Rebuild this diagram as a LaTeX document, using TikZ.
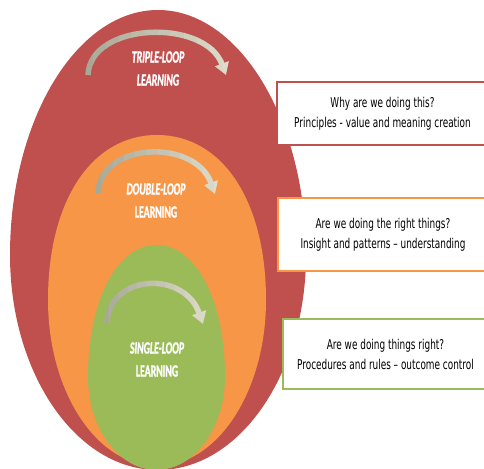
\documentclass[tikz,border=0pt]{standalone}
\usepackage{fontspec}
\usetikzlibrary{arrows.meta}
\newfontfamily\boxfont{DejaVu Sans}[FakeStretch=0.66]
\newfontfamily\labfont{Carlito}[FakeStretch=0.58,FakeBold=1.2]
\definecolor{tripred}{HTML}{C0504D}
\definecolor{dblorange}{HTML}{F79646}
\definecolor{sglgreen}{HTML}{9BBB59}
\definecolor{arrdark}{HTML}{A8A897}
\definecolor{arrlight}{HTML}{DEDCCB}
\tikzset{
  looplabel/.style={text=white, align=center, font=\labfont\fontsize{17}{23}\selectfont\bfseries},
  questbox/.style={rectangle, fill=white, line width=2pt, align=center, inner sep=0pt,
    font=\boxfont\fontsize{13.5}{20}\selectfont},
  looparrow/.style={line width=5.5pt, -{Triangle[length=12pt,width=14pt]}}
}
% egg-shaped zone: colour, cx, cy, rx, top radius, bottom radius, top kappa, bottom kappa
\newcommand{\eggzone}[8]{%
  \fill[#1] ({#2-#4},#3)
    .. controls ({#2-#4},{#3-#7*#5}) and ({#2-#7*#4},{#3-#5}) .. ({#2},{#3-#5})
    .. controls ({#2+#7*#4},{#3-#5}) and ({#2+#4},{#3-#7*#5}) .. ({#2+#4},#3)
    .. controls ({#2+#4},{#3+#8*#6}) and ({#2+#8*#4},{#3+#6}) .. ({#2},{#3+#6})
    .. controls ({#2-#8*#4},{#3+#6}) and ({#2-#4},{#3+#8*#6}) .. cycle;
}
\newcommand{\gradarrow}[6]{% start, c1, c2, end, xmin, xmax
  \foreach \k in {0,...,11}{
    \pgfmathsetmacro{\pp}{100-\k*100/11}
    \pgfmathsetmacro{\xa}{#5+(#6-#5)*\k/12}
    \pgfmathsetmacro{\xb}{#5+(#6-#5)*(\k+1)/12+0.6}
    \begin{scope}
      \clip (\xa,0) rectangle (\xb,468);
      \draw[looparrow, draw=arrdark!\pp!arrlight] (#1) .. controls #2 and #3 .. (#4);
    \end{scope}
  }
}
\begin{document}
\begin{tikzpicture}[x=1pt,y=-1pt]
\useasboundingbox (0,0) rectangle (484,468);
\clip (0,0) rectangle (484,468);
% zones
\eggzone{tripred}{158}{255}{148}{245}{215}{0.55}{0.552}
\eggzone{dblorange}{157}{300}{109}{165}{166}{0.6}{0.552}
\eggzone{sglgreen}{156.5}{377}{68.5}{132}{93}{0.58}{0.55}
% arrows
\coordinate (ta) at (88,75); \coordinate (tb) at (226,75);
\gradarrow{ta}{(90,22)}{(205,18)}{tb}{80}{236}
\coordinate (da) at (98,193); \coordinate (db) at (215,194);
\gradarrow{da}{(100,142)}{(195,138)}{db}{90}{225}
\coordinate (sa) at (107,323); \coordinate (sb) at (203,324);
\gradarrow{sa}{(109,274)}{(184,270)}{sb}{99}{213}
% labels
\node[looplabel] (tlab) at (158,68.5) {\itshape TRIPLE-LOOP\\\itshape LEARNING};
\node[looplabel] (dlab) at (156,200.5) {\itshape DOUBLE-LOOP\\LEARNING};
\node[looplabel] (slab) at (157,359.5) {\itshape SINGLE-LOOP\\LEARNING};
% boxes
\node[questbox, draw=tripred, minimum width=211pt, minimum height=63pt] (q1) at (382.5,113.5)
  {Why are we doing this?\\Principles - value and meaning creation};
\node[questbox, draw=dblorange, minimum width=210pt, minimum height=73pt] (q2) at (383,234.5)
  {Are we doing the right things?\\Insight and patterns – understanding};
\node[questbox, draw=sglgreen, minimum width=205pt, minimum height=70pt] (q3) at (385.5,354)
  {Are we doing things right?\\Procedures and rules – outcome control};
\end{tikzpicture}
\end{document}
